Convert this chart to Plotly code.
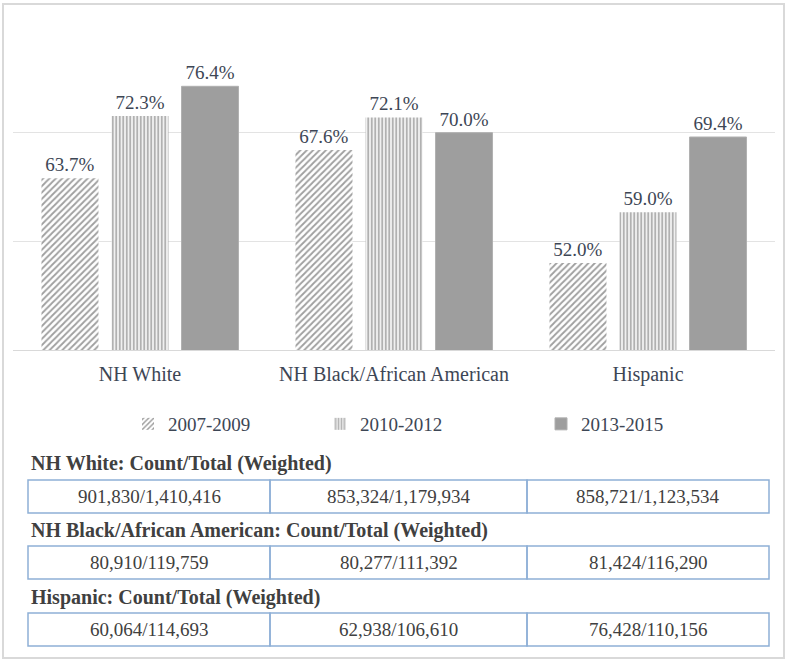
import plotly.graph_objects as go

categories = ["NH White", "NH Black/African American", "Hispanic"]
periods = ["2007-2009", "2010-2012", "2013-2015"]
values_2007 = [63.7, 67.6, 52.0]
values_2010 = [72.3, 72.1, 59.0]
values_2013 = [76.4, 70.0, 69.4]
series_values = [values_2007, values_2010, values_2013]

table_titles = [
    "NH White: Count/Total (Weighted)",
    "NH Black/African American: Count/Total (Weighted)",
    "Hispanic: Count/Total (Weighted)",
]
table_white = ["901,830/1,410,416", "853,324/1,179,934", "858,721/1,123,534"]
table_black = ["80,910/119,759", "80,277/111,392", "81,424/116,290"]
table_hispanic = ["60,064/114,693", "62,938/106,610", "76,428/110,156"]
table_rows = [table_white, table_black, table_hispanic]

W, H = 789, 662
FONT = "Liberation Serif"
TXT = "#3d4655"

def py(pix):
    return 1 - pix / H

def px(pix):
    return pix / W

styles = [
    dict(color="white", pattern=dict(shape="/", fgcolor="#404040", bgcolor="white", size=4.5, solidity=0.4), line=dict(width=0)),
    dict(color="white", pattern=dict(shape="|", fgcolor="#646464", bgcolor="white", size=3.5, solidity=0.6), line=dict(width=0)),
    dict(color="#9e9e9e", line=dict(color="#b0b0b0", width=1)),
]

legend_names = ["legend", "legend2", "legend3"]
legend_text_x = [170, 362, 583]

fig = go.Figure()
for name, vals, st, lg in zip(periods, series_values, styles, legend_names):
    fig.add_trace(go.Bar(
        x=categories, y=vals, name=name, marker=st, legend=lg,
        texttemplate="%{y:.1f}%", textposition="outside",
        textfont=dict(family=FONT, size=19, color=TXT),
        cliponaxis=False, hoverinfo="skip",
    ))

shapes = []
annotations = []
shapes.append(dict(type="rect", xref="paper", yref="paper",
                   x0=px(3), x1=px(784), y0=py(658), y1=py(4),
                   line=dict(color="#d9d9d9", width=2), fillcolor="rgba(0,0,0,0)"))

title_y = [463, 530, 597]
row_top = [480, 546, 613]
row_h = 33
col_edges = [28, 270, 527, 769]
for t, ty, rt, row in zip(table_titles, title_y, row_top, table_rows):
    annotations.append(dict(xref="paper", yref="paper", x=px(29), y=py(ty),
                            xanchor="left", yanchor="middle", showarrow=False,
                            text="<b>" + t + "</b>",
                            font=dict(family=FONT, size=20, color="#404040")))
    for i, cell in enumerate(row):
        shapes.append(dict(type="rect", xref="paper", yref="paper",
                           x0=px(col_edges[i]), x1=px(col_edges[i + 1]),
                           y0=py(rt + row_h), y1=py(rt),
                           line=dict(color="#8eb0d6", width=1.5),
                           fillcolor="rgba(0,0,0,0)"))
        annotations.append(dict(xref="paper", yref="paper",
                                x=px((col_edges[i] + col_edges[i + 1]) / 2),
                                y=py(rt + row_h / 2), xanchor="center", yanchor="middle",
                                showarrow=False, text=cell,
                                font=dict(family=FONT, size=19, color="#404040")))

legend_common = dict(orientation="h", y=py(424), xanchor="left", yanchor="middle",
                     font=dict(family=FONT, size=19, color=TXT), itemwidth=30,
                     bgcolor="rgba(0,0,0,0)")
legends = {}
for lg, tx in zip(legend_names, legend_text_x):
    legends[lg] = dict(legend_common, x=px(tx - 42))

fig.update_layout(
    width=W, height=H,
    margin=dict(l=0, r=0, t=0, b=0),
    paper_bgcolor="white", plot_bgcolor="white",
    barmode="group", bargap=0.173, bargroupgap=0.186,
    showlegend=True,
    xaxis=dict(domain=[px(13), px(775)], showline=True, linecolor="#d9d9d9", linewidth=1,
               tickfont=dict(family=FONT, size=20, color=TXT), ticks="",
               ticklabelstandoff=6, fixedrange=True),
    yaxis=dict(domain=[py(350), py(24)], range=[40, 85], dtick=15, tick0=40,
               showgrid=True, gridcolor="#e3e3e3", gridwidth=1, showticklabels=False,
               zeroline=False, fixedrange=True),
    shapes=shapes, annotations=annotations,
    **legends,
)

fig.write_html("out.html", config={"displayModeBar": False},
               post_script="document.body.style.margin='0';document.body.style.overflow='hidden';")
